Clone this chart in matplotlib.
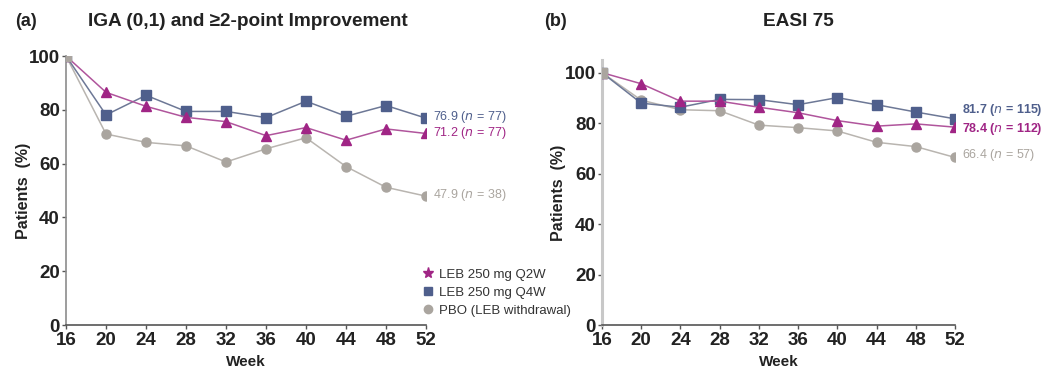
import matplotlib
matplotlib.use('Agg')
import matplotlib.pyplot as plt
from matplotlib.lines import Line2D

plt.rcParams['font.family'] = ['Liberation Sans', 'DejaVu Sans']

weeks = [16, 20, 24, 28, 32, 36, 40, 44, 48, 52]

# (a) IGA (0,1) and >=2-point improvement
iga_q2w = [100, 86.5, 81.3, 77.2, 75.6, 70.4, 73.4, 68.7, 72.9, 71.2]
iga_q4w = [100, 78.1, 85.4, 79.4, 79.4, 77.1, 83.2, 77.6, 81.6, 76.9]
iga_pbo = [100, 71.0, 67.9, 66.6, 60.6, 65.5, 69.6, 58.9, 51.2, 47.9]

# (b) EASI 75
easi_q2w = [100, 95.6, 88.7, 88.7, 86.3, 84.1, 81.0, 78.8, 79.7, 78.4]
easi_q4w = [100, 87.9, 86.3, 89.4, 89.3, 87.3, 90.1, 87.3, 84.4, 81.7]
easi_pbo = [100, 89.1, 85.3, 84.9, 79.2, 78.2, 76.9, 72.4, 70.7, 66.4]

iga_end = ['71.2', '76.9', '47.9']
iga_n = ['77', '77', '38']
easi_end = ['78.4', '81.7', '66.4']
easi_n = ['112', '115', '57']

labels = ['LEB 250 mg Q2W', 'LEB 250 mg Q4W', 'PBO (LEB withdrawal)']
c_q2w = '#a02585'
c_q4w = '#4f5f8c'
c_pbo = '#aaa59f'
line_q2w = '#b0559c'
line_q4w = '#6d7896'
line_pbo = '#b9b5b0'

fig = plt.figure(figsize=(10.53, 3.78), dpi=100)
ax1 = fig.add_axes([0.0627, 0.1402, 0.3419, 0.7116])
ax2 = fig.add_axes([0.5717, 0.1402, 0.3352, 0.701])


def draw(ax, q2w, q4w, pbo, ymax, spine_col, spine_w, ylab_x):
    ax.plot(weeks, pbo, color=line_pbo, lw=1.1, marker='o', ms=6.5,
            mfc=c_pbo, mec=c_pbo, zorder=2)
    ax.plot(weeks, q4w, color=line_q4w, lw=1.1, marker='s', ms=7,
            mfc=c_q4w, mec=c_q4w, zorder=3)
    ax.plot(weeks, q2w, color=line_q2w, lw=1.1, marker='^', ms=7,
            mfc=c_q2w, mec=c_q2w, zorder=4)
    # start point drawn as the grey square seen in the source
    ax.plot(weeks[0], pbo[0], marker='s', ms=7, color=c_pbo, zorder=5)
    ax.set_xlim(16, 52)
    ax.set_ylim(0, ymax)
    ax.set_xticks(weeks)
    ax.set_yticks([0, 20, 40, 60, 80, 100])
    for s in ['top', 'right']:
        ax.spines[s].set_visible(False)
    ax.spines['left'].set_color(spine_col)
    ax.spines['left'].set_linewidth(spine_w)
    ax.spines['bottom'].set_color('#555555')
    ax.spines['bottom'].set_linewidth(1.2)
    ax.tick_params(axis='both', length=3, width=1, color='#555555',
                   labelsize=13.5)
    ax.tick_params(axis='y', pad=1.5)
    ax.tick_params(axis='x', pad=2)
    for t in ax.get_xticklabels() + ax.get_yticklabels():
        t.set_fontweight('bold')
        t.set_color('#222222')
    ax.set_xlabel('Week', fontsize=11, fontweight='bold',
                  color='#222222', labelpad=4)
    ax.set_ylabel('Patients  (%)', fontsize=11.5, fontweight='bold',
                  color='#222222')
    ax.yaxis.set_label_coords(ylab_x, 0.5)


draw(ax1, iga_q2w, iga_q4w, iga_pbo, 100, '#8c8c8c', 1.2, -0.098)
draw(ax2, easi_q2w, easi_q4w, easi_pbo, 105, '#c8c8c8', 2.2, -0.102)


def end_label(ax, y, val, n, col, dy, bold):
    w = 'bold' if bold else 'normal'
    ax.annotate(val + ' ($\\mathit{n}$ = ' + n + ')', xy=(52, y),
                xytext=(5, dy), textcoords='offset points', va='center',
                ha='left', fontsize=9, color=col, fontweight=w,
                annotation_clip=False)


end_label(ax1, iga_q4w[-1], iga_end[1], iga_n[1], c_q4w, 1, False)
end_label(ax1, iga_q2w[-1], iga_end[0], iga_n[0], c_q2w, 0, False)
end_label(ax1, iga_pbo[-1], iga_end[2], iga_n[2], c_pbo, 1, False)
end_label(ax2, easi_q4w[-1], easi_end[1], easi_n[1], c_q4w, 6, True)
end_label(ax2, easi_q2w[-1], easi_end[0], easi_n[0], c_q2w, -1, True)
end_label(ax2, easi_pbo[-1], easi_end[2], easi_n[2], c_pbo, 2, False)

handles = [
    Line2D([], [], ls='none', marker='*', ms=8, color=c_q2w),
    Line2D([], [], ls='none', marker='s', ms=6, color=c_q4w),
    Line2D([], [], ls='none', marker='o', ms=6, color=c_pbo),
]
ax1.legend(handles, labels, loc='lower left', bbox_to_anchor=(0.97, 0.0),
           frameon=False, fontsize=9.5, handlelength=0.8, handletextpad=0.4,
           labelspacing=0.45, borderaxespad=0.2, labelcolor='#333333')

fig.text(0.014, 0.944, '(a)', fontsize=13, fontweight='bold',
         va='center', color='#222222')
fig.text(0.235, 0.944, 'IGA (0,1) and \u22652-point Improvement',
         fontsize=13.7, fontweight='bold', va='center', ha='center',
         color='#222222')
fig.text(0.517, 0.944, '(b)', fontsize=13, fontweight='bold',
         va='center', color='#222222')
fig.text(0.758, 0.944, 'EASI 75', fontsize=13.7, fontweight='bold',
         va='center', ha='center', color='#222222')

fig.savefig('out.png', dpi=100, facecolor='white')
